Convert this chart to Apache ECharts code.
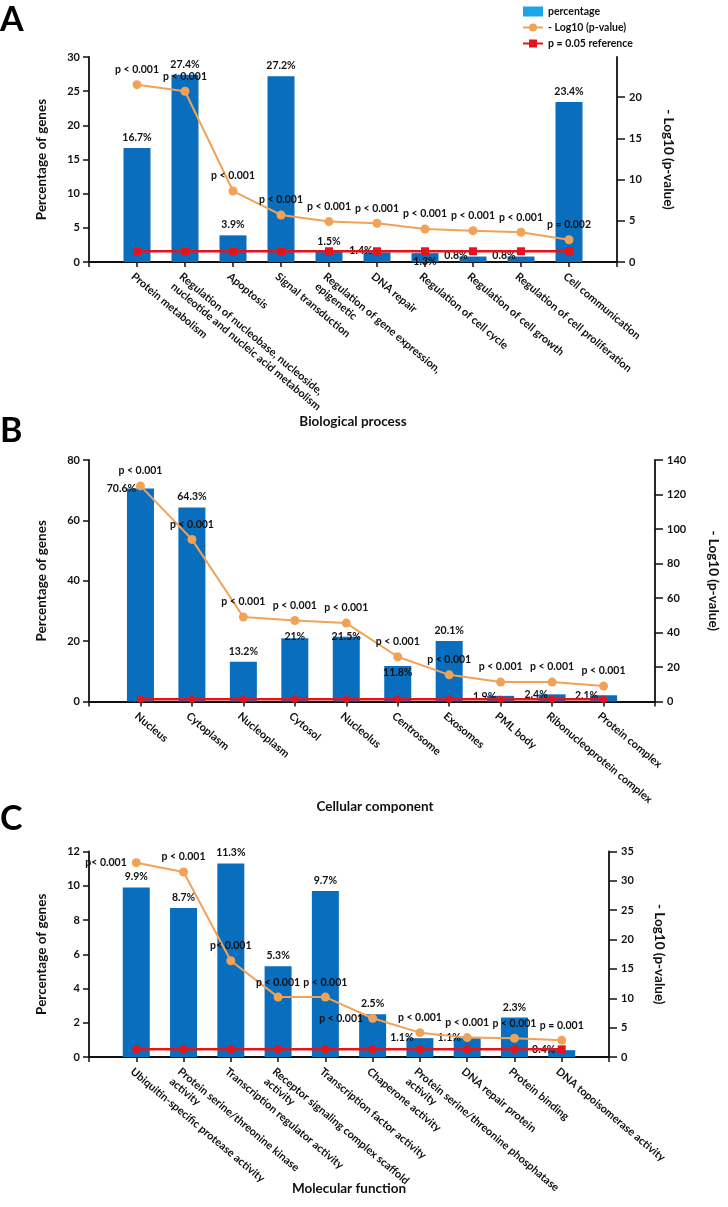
<!DOCTYPE html>
<html><head><meta charset="utf-8">
<script src="https://cdn.jsdelivr.net/npm/echarts@6/dist/echarts.min.js"></script>
<style>html,body{margin:0;padding:0;background:#fff}#c{width:728px;height:1207px}</style>
</head><body><div id="c"></div>
<script>
// ---------- DATA ----------
// Panel A: Biological process
const catsA = ['Protein metabolism', 'Regulation of nucleobase, nucleoside,\nnucleotide and nucleic acid metabolism', 'Apoptosis', 'Signal transduction', 'Regulation of gene expression,\nepigenetic', 'DNA repair', 'Regulation of cell cycle', 'Regulation of cell growth', 'Regulation of cell proliferation', 'Cell communication'];
const pctA = [16.7, 27.4, 3.9, 27.2, 1.5, 1.4, 1.3, 0.8, 0.8, 23.4];
const logPA = [21.5, 20.7, 8.6, 5.7, 4.9, 4.7, 4.0, 3.8, 3.6, 2.7];
const pTextA = ['p < 0.001', 'p < 0.001', 'p < 0.001', 'p < 0.001', 'p < 0.001', 'p < 0.001', 'p < 0.001', 'p < 0.001', 'p < 0.001', 'p = 0.002'];
const refA = [1.3, 1.3, 1.3, 1.3, 1.3, 1.3, 1.3, 1.3, 1.3, 1.3];
const leftTicksA = [0, 5, 10, 15, 20, 25, 30];
const rightTicksA = [0, 5, 10, 15, 20];

// Panel B: Cellular component
const catsB = ['Nucleus', 'Cytoplasm', 'Nucleoplasm', 'Cytosol', 'Nucleolus', 'Centrosome', 'Exosomes', 'PML body', 'Ribonucleoprotein complex', 'Protein complex'];
const pctB = [70.6, 64.3, 13.2, 21, 21.5, 11.8, 20.1, 1.9, 2.4, 2.1];
const logPB = [125, 94, 49, 47, 45.5, 26, 15.5, 11.3, 11.3, 9];
const pTextB = ['p < 0.001', 'p < 0.001', 'p < 0.001', 'p < 0.001', 'p < 0.001', 'p < 0.001', 'p < 0.001', 'p < 0.001', 'p < 0.001', 'p < 0.001'];
const refB = [1.3, 1.3, 1.3, 1.3, 1.3, 1.3, 1.3, 1.3, 1.3, 1.3];
const leftTicksB = [0, 20, 40, 60, 80];
const rightTicksB = [0, 20, 40, 60, 80, 100, 120, 140];

// Panel C: Molecular function
const catsC = ['Ubiquitin-specific protease activity', 'Protein serine/threonine kinase\nactivity', 'Transcription regulator activity', 'Receptor signaling complex scaffold\nactivity', 'Transcription factor activity', 'Chaperone activity', 'Protein serine/threonine phosphatase\nactivity', 'DNA repair protein', 'Protein binding', 'DNA topoisomerase activity'];
const pctC = [9.9, 8.7, 11.3, 5.3, 9.7, 2.5, 1.1, 1.1, 2.3, 0.4];
const logPC = [33.1, 31.5, 16.4, 10.2, 10.2, 6.6, 4.15, 3.3, 3.2, 2.85];
const pTextC = ['p< 0.001', 'p < 0.001', 'p< 0.001', 'p < 0.001', 'p < 0.001', 'p < 0.001', 'p < 0.001', 'p < 0.001', 'p < 0.001', 'p = 0.001'];
const refC = [1.3, 1.3, 1.3, 1.3, 1.3, 1.3, 1.3, 1.3, 1.3, 1.3];
const leftTicksC = [0, 2, 4, 6, 8, 10, 12];
const rightTicksC = [0, 5, 10, 15, 20, 25, 30, 35];

// ---------- LAYOUT / STYLE ----------
const FONT = 'Lato, "Noto Sans", sans-serif';
const BLUE = '#0A6EBE', ORANGE = '#F2A257', RED = '#E5141C', INK = '#111';
const AXW = 1.8;

const panels = [
  { grid: {left: 89, top: 57, width: 528, height: 205},
    cats: catsA, pct: pctA, logp: logPA, ptext: pTextA, ref: refA,
    lt: leftTicksA, rt: rightTicksA, rMax: 24.85,
    barShift: [[0,0],[0,0],[0,0],[0,0],[0,0],[-16,9],[0,19],[-17,10],[-17,10],[0,0]],
    pPos: ['top','top','top','top','top','top','top','top','top','top'],
    refSymbol: 'rect',
    refSym: ['rect','rect','rect','rect','rect','rect','rect','rect','rect','rect'], refSize: 8,
    lGap: 40, rGap: 44 },
  { grid: {left: 89, top: 460, width: 572, height: 241.6},
    cats: catsB, pct: pctB, logp: logPB, ptext: pTextB, ref: refB,
    lt: leftTicksB, rt: rightTicksB, rMax: 140,
    barShift: [[-19,11],[0,0],[0,0],[0,9],[0,10],[0,17],[0,0],[-16,11],[-16,11],[-17,11]],
    pPos: ['top','top','top','top','top','top','top','top','top','top'],
    refSymbol: 'circle',
    refSym: ['circle','circle','circle','circle','circle','circle','circle','circle','circle','circle'], refSize: 7,
    lGap: 40, rGap: 51 },
  { grid: {left: 89, top: 851.5, width: 520, height: 205.5},
    cats: catsC, pct: pctC, logp: logPC, ptext: pTextC, ref: refC,
    lt: leftTicksC, rt: rightTicksC, rMax: 35,
    barShift: [[0,0],[0,0],[0,0],[0,0],[0,0],[0,0],[-18,10],[-18,10],[0,0],[-18,10]],
    pPos: ['left','top','top','top','top','left','top','top','top','top'],
    refSymbol: 'circle',
    refSym: ['circle','circle','circle','circle','circle','circle','circle','circle','circle','rect'], refSize: 8,
    lGap: 40, rGap: 43 }
];

const grids = [], xAxes = [], yAxes = [], series = [];
const txt = {fontFamily: FONT, fontWeight: 'bold', color: INK};

panels.forEach((P, i) => {
  grids.push(P.grid);
  xAxes.push({
    type: 'category', gridIndex: i, boundaryGap: false,
    data: ['', ...P.cats, ''],
    axisLine: {lineStyle: {color: INK, width: AXW}},
    axisTick: {show: true, interval: 0, length: 5, lineStyle: {color: INK, width: 1.5}},
    axisLabel: {interval: 0, rotate: -40, align: 'left', verticalAlign: 'top', margin: 8, fontSize: 11, lineHeight: 13, ...txt},
    splitLine: {show: false}
  });
  const lt = P.lt, rt = P.rt;
  yAxes.push({
    type: 'value', gridIndex: i, position: 'left',
    min: lt[0], max: lt[lt.length - 1], interval: lt[1] - lt[0],
    axisLine: {show: true, lineStyle: {color: INK, width: AXW}},
    axisTick: {show: true, length: 6, lineStyle: {color: INK, width: 1.5}},
    axisLabel: {margin: 9, fontSize: 11, ...txt},
    splitLine: {show: false},
    name: 'Percentage of genes', nameLocation: 'middle', nameGap: P.lGap, nameRotate: 90,
    nameTextStyle: {fontSize: 13.5, fontFamily: FONT, fontWeight: 'bold', color: INK}
  });
  yAxes.push({
    type: 'value', gridIndex: i, position: 'right',
    min: rt[0], max: P.rMax, interval: rt[1] - rt[0],
    axisLine: {show: true, lineStyle: {color: INK, width: AXW}},
    axisTick: {show: true, length: 8, customValues: rt, lineStyle: {color: INK, width: 1.5}},
    axisLabel: {margin: 12, fontSize: 11, customValues: rt, ...txt},
    splitLine: {show: false},
    name: '- Log10 (p-value)', nameLocation: 'middle', nameGap: P.rGap, nameRotate: -90,
    nameTextStyle: {fontSize: 13.5, fontFamily: FONT, fontWeight: 'bold', color: INK}
  });
  const lx = 2 * i, rx = 2 * i + 1;
  series.push({
    name: 'percentage', type: 'bar', xAxisIndex: i, yAxisIndex: lx, barWidth: 27,
    itemStyle: {color: BLUE},
    label: {show: true, position: 'top', distance: 5, fontSize: 10.5, ...txt, formatter: p => p.value + '%'},
    data: ['-', ...P.pct.map((v, k) => ({value: v, label: {offset: P.barShift[k]}})), '-'],
    z: 2
  });
  series.push({
    name: '- Log10 (p-value)', type: 'line', xAxisIndex: i, yAxisIndex: rx,
    symbol: 'circle', symbolSize: 9,
    lineStyle: {color: ORANGE, width: 2}, itemStyle: {color: ORANGE},
    label: {show: true, distance: 5, fontSize: 10.5, ...txt},
    data: ['-', ...P.logp.map((v, k) => ({value: v, label: {formatter: P.ptext[k], position: P.pPos[k]}})), '-'],
    z: 4
  });
  series.push({
    name: 'p = 0.05 reference', type: 'line', xAxisIndex: i, yAxisIndex: rx,
    symbol: P.refSymbol, symbolSize: P.refSize,
    lineStyle: {color: RED, width: 2.5}, itemStyle: {color: RED},
    data: ['-', ...P.ref.map((v, k) => ({value: v, symbol: P.refSym[k]})), '-'],
    z: 3
  });
});

const option = {
  animation: false,
  backgroundColor: '#fff',
  textStyle: {fontFamily: FONT},
  grid: grids, xAxis: xAxes, yAxis: yAxes, series: series,
  legend: {
    orient: 'vertical', left: 522, top: 6, padding: 0, itemWidth: 20, itemHeight: 10, itemGap: 5,
    textStyle: {fontSize: 10.5, fontFamily: FONT, fontWeight: 'bold', color: INK},
    data: [
      {name: 'percentage', icon: 'rect', itemStyle: {color: '#1EA5E9'}},
      {name: '- Log10 (p-value)'},
      {name: 'p = 0.05 reference'}
    ]
  },
  graphic: [
    {type: 'text', x: 0, y: 20, style: {text: 'A', font: 'bold 34px ' + FONT, fill: '#000', textVerticalAlign: 'middle'}},
    {type: 'text', x: 0, y: 431, style: {text: 'B', font: 'bold 34px ' + FONT, fill: '#000', textVerticalAlign: 'middle'}},
    {type: 'text', x: 0, y: 819, style: {text: 'C', font: 'bold 34px ' + FONT, fill: '#000', textVerticalAlign: 'middle'}},
    {type: 'text', x: 353, y: 422, style: {text: 'Biological process', font: 'bold 13.5px ' + FONT, fill: INK, textAlign: 'center', textVerticalAlign: 'middle'}},
    {type: 'text', x: 375, y: 807, style: {text: 'Cellular component', font: 'bold 13.5px ' + FONT, fill: INK, textAlign: 'center', textVerticalAlign: 'middle'}},
    {type: 'text', x: 349, y: 1189, style: {text: 'Molecular function', font: 'bold 13.5px ' + FONT, fill: INK, textAlign: 'center', textVerticalAlign: 'middle'}}
  ]
};
const chart = echarts.init(document.getElementById('c'), null, {renderer: 'canvas'});
chart.setOption(option);
</script>
</body></html>
